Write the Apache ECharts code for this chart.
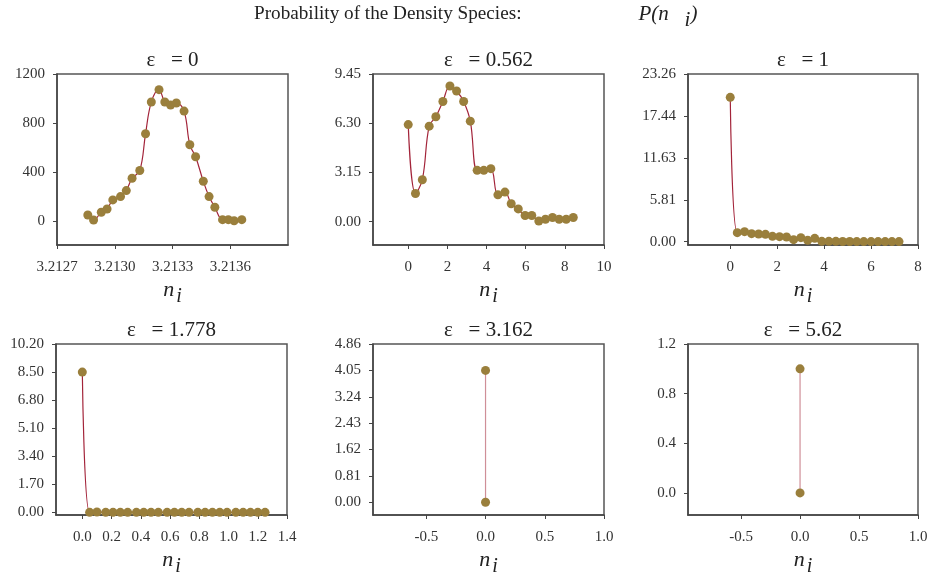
<!DOCTYPE html>
<html><head><meta charset="utf-8">
<script src="https://cdn.jsdelivr.net/npm/echarts@6/dist/echarts.min.js"></script>
<style>html,body{margin:0;padding:0;background:#fff}#c{width:928px;height:574px}</style>
</head><body><div id="c"></div>
<script>
// ---------- data ----------
const mainTitle = 'Probability of the Density Species:';
const panelTitles = ['ε   = 0', 'ε   = 0.562', 'ε   = 1', 'ε   = 1.778', 'ε   = 3.162', 'ε   = 5.62'];

const x1 = [3.21286, 3.21289, 3.21293, 3.21296, 3.21299, 3.21303, 3.21306, 3.21309, 3.21313, 3.21316, 3.21319, 3.21323, 3.21326, 3.21329, 3.21332, 3.21336, 3.21339, 3.21342, 3.21346, 3.21349, 3.21352, 3.21356, 3.21359, 3.21362, 3.21366];
const y1 = [49, 8, 71, 98, 172, 199, 248, 349, 412, 712, 971, 1072, 971, 946, 963, 897, 622, 524, 324, 199, 112, 11, 11, 2, 11];

const x2 = [0, 0.37, 0.72, 1.07, 1.41, 1.77, 2.13, 2.47, 2.83, 3.17, 3.52, 3.86, 4.22, 4.58, 4.94, 5.26, 5.62, 5.97, 6.31, 6.67, 7.01, 7.37, 7.71, 8.07, 8.43];
const y2 = [6.21, 1.80, 2.68, 6.11, 6.71, 7.69, 8.68, 8.36, 7.69, 6.43, 3.28, 3.28, 3.39, 1.71, 1.89, 1.14, 0.81, 0.39, 0.39, 0.04, 0.15, 0.26, 0.15, 0.15, 0.26];

const x3 = [0, 0.30, 0.61, 0.91, 1.21, 1.50, 1.80, 2.10, 2.40, 2.70, 3.01, 3.30, 3.60, 3.90, 4.20, 4.50, 4.79, 5.09, 5.39, 5.69, 6.00, 6.30, 6.60, 6.89, 7.19];
const y3 = [20.02, 1.25, 1.39, 1.11, 1.07, 1.02, 0.74, 0.70, 0.65, 0.28, 0.56, 0.19, 0.46, 0.05, 0.05, 0.05, 0.02, 0.02, 0.01, 0.01, 0.01, 0.01, 0.01, 0.01, 0.01];

const x4 = [0, 0.05, 0.10, 0.16, 0.21, 0.26, 0.31, 0.37, 0.42, 0.47, 0.52, 0.58, 0.63, 0.68, 0.73, 0.79, 0.84, 0.89, 0.94, 0.99, 1.05, 1.10, 1.15, 1.20, 1.25];
const y4 = [8.50, 0, 0.02, 0, 0, 0, 0, 0, 0, 0, 0, 0, 0, 0, 0, 0, 0, 0, 0, 0, 0, 0, 0, 0, 0];

const x5 = [0, 0];
const y5 = [4.05, 0];

const x6 = [0, 0];
const y6 = [1.0, 0];

// tick values and labels
const xTicks = [
  [3.2127, 3.2130, 3.2133, 3.2136],
  [0, 2, 4, 6, 8, 10],
  [0, 2, 4, 6, 8],
  [0, 0.2, 0.4, 0.6, 0.8, 1.0, 1.2, 1.4],
  [-0.5, 0, 0.5, 1.0],
  [-0.5, 0, 0.5, 1.0]
];
const xTickLabels = [
  ['3.2127', '3.2130', '3.2133', '3.2136'],
  ['0', '2', '4', '6', '8', '10'],
  ['0', '2', '4', '6', '8'],
  ['0.0', '0.2', '0.4', '0.6', '0.8', '1.0', '1.2', '1.4'],
  ['-0.5', '0.0', '0.5', '1.0'],
  ['-0.5', '0.0', '0.5', '1.0']
];
const yTicks = [
  [0, 400, 800, 1200],
  [0, 3.15, 6.30, 9.45],
  [0, 5.815, 11.63, 17.445, 23.26],
  [0, 1.70, 3.40, 5.10, 6.80, 8.50, 10.20],
  [0, 0.81, 1.62, 2.43, 3.24, 4.05, 4.86],
  [0, 0.4, 0.8, 1.2]
];
const yTickLabels = [
  ['0', '400', '800', '1200'],
  ['0.00', '3.15', '6.30', '9.45'],
  ['0.00', '5.81', '11.63', '17.44', '23.26'],
  ['0.00', '1.70', '3.40', '5.10', '6.80', '8.50', '10.20'],
  ['0.00', '0.81', '1.62', '2.43', '3.24', '4.05', '4.86'],
  ['0.0', '0.4', '0.8', '1.2']
];
const xRanges = [[3.2127, 3.2139], [-1.8, 10], [-1.8, 8], [-0.18, 1.4], [-0.95, 1.0], [-0.95, 1.0]];
const yRanges = [[-196, 1200], [-1.5, 9.45], [-0.46, 23.26], [-0.16, 10.2], [-0.39, 4.86], [-0.178, 1.2]];

const xs = [x1, x2, x3, x4, x5, x6];
const ys = [y1, y2, y3, y4, y5, y6];

// ---------- layout ----------
const gridRects = [
  {left: 57, top: 74, width: 231, height: 171},
  {left: 373, top: 74, width: 231, height: 171},
  {left: 688, top: 74, width: 230, height: 171},
  {left: 56, top: 344, width: 231, height: 171},
  {left: 373, top: 344, width: 231, height: 171},
  {left: 688, top: 344, width: 230, height: 171}
];
const SERIF = '"Liberation Serif", "Times New Roman", serif';
const AX = '#444';
const LINE = '#a3243a';
const DOT = '#9a7f3c';
const lineColors = [LINE, LINE, LINE, LINE, '#cf8f98', '#cf8f98'];

function labelFor(ticks, labels) {
  return function (v) {
    let best = 0, bd = Infinity;
    ticks.forEach((t, i) => { const d = Math.abs(t - v); if (d < bd) { bd = d; best = i; } });
    return labels[best];
  };
}

const grid = [], xAxis = [], yAxis = [], series = [], graphic = [];
for (let i = 0; i < 6; i++) {
  grid.push(Object.assign({show: true, borderColor: '#555', borderWidth: 1.5, backgroundColor: 'transparent', containLabel: false, outerBoundsMode: 'none'}, gridRects[i]));
  xAxis.push({
    type: 'value', gridIndex: i, min: xRanges[i][0], max: xRanges[i][1],
    name: '{n|n}{s|i}', nameLocation: 'middle', nameGap: 28, nameMoveOverlap: false,
    nameTextStyle: {
      rich: {
        n: {fontFamily: SERIF, fontStyle: 'italic', fontSize: 22, color: '#222'},
        s: {fontFamily: SERIF, fontStyle: 'italic', fontSize: 20, color: '#222', padding: [14, 0, 0, 2]}
      }
    },
    axisLine: {show: true, onZero: false, lineStyle: {color: AX, width: 1.5}},
    axisTick: {show: true, inside: false, length: 4, customValues: xTicks[i], lineStyle: {color: AX}},
    axisLabel: {customValues: xTicks[i], formatter: labelFor(xTicks[i], xTickLabels[i]), fontFamily: SERIF, fontSize: 15, color: '#333', margin: 15},
    splitLine: {show: false}
  });
  yAxis.push({
    type: 'value', gridIndex: i, min: yRanges[i][0], max: yRanges[i][1],
    axisLine: {show: true, onZero: false, lineStyle: {color: AX, width: 1.5}},
    axisTick: {show: true, inside: false, length: 4, customValues: yTicks[i], lineStyle: {color: AX}},
    axisLabel: {customValues: yTicks[i], formatter: labelFor(yTicks[i], yTickLabels[i]), fontFamily: SERIF, fontSize: 15, color: '#333', margin: 12},
    splitLine: {show: false}
  });
  series.push({
    type: 'line', xAxisIndex: i, yAxisIndex: i,
    data: xs[i].map((x, k) => [x, ys[i][k]]),
    smooth: i < 4 ? 0.4 : false,
    symbol: 'circle', symbolSize: 9,
    itemStyle: {color: DOT},
    lineStyle: {color: lineColors[i], width: 1.2},
    clip: false, animation: false
  });
  const r = gridRects[i];
  graphic.push({
    type: 'text', x: r.left + r.width / 2, y: r.top - 14,
    style: {text: panelTitles[i], font: '21px ' + SERIF, fill: '#222', align: 'center', verticalAlign: 'middle'}
  });
}

graphic.push({
  type: 'text', x: 254, y: 14,
  style: {
    text: '{a|' + mainTitle + '}{b|P(n}{s|   i}{b|)}',
    align: 'left', verticalAlign: 'middle',
    rich: {
      a: {fontFamily: SERIF, fontSize: 19.2, fill: '#222', color: '#222', padding: [0, 117, 0, 0]},
      b: {fontFamily: SERIF, fontSize: 21, fontStyle: 'italic', fill: '#222', color: '#222'},
      s: {fontFamily: SERIF, fontSize: 21, fontStyle: 'italic', fill: '#222', color: '#222', padding: [12, 0, 0, 0]}
    }
  }
});

const chart = echarts.init(document.getElementById('c'), null, {renderer: 'canvas'});
chart.setOption({animation: false, backgroundColor: '#fff', grid, xAxis, yAxis, series, graphic});
</script></body></html>
